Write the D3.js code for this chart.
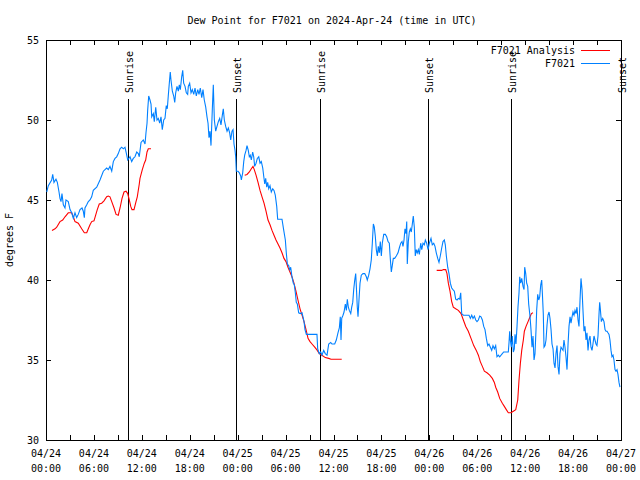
<!DOCTYPE html>
<html><head><meta charset="utf-8">
<script src="https://cdn.jsdelivr.net/npm/d3@7"></script>
<style>
html,body{margin:0;padding:0;background:#fff;}
text{font-family:"DejaVu Sans Mono","Liberation Mono",monospace;font-size:10px;fill:#000;}
</style></head>
<body>
<svg id="chart" width="640" height="480"></svg>
<script>
const titleText = "Dew Point for F7021 on 2024-Apr-24 (time in UTC)";
const yLabel = "degrees F";
const startUTC = Date.UTC(2024, 3, 24, 0, 0);
const spanHours = 72;
const yDomain = [30, 55];
const yTickValues = [30, 35, 40, 45, 50, 55];
const seriesNames = ["F7021 Analysis", "F7021"];
const seriesColors = ["#ff0000", "#0080ff"];
const eventHours = [10.31, 23.83, 34.35, 47.87, 58.27, 72.0];
const eventLabels = ["Sunrise", "Sunset", "Sunrise", "Sunset", "Sunrise", "Sunset"];

// F7021 observations: [hours after 04/24 00:00 UTC, degrees F]
const obsReadings = [
[0.09,45.5],[0.29,45.9],[0.71,46.25],[0.84,46.6],[1.00,46.1],[1.25,46.3],[1.42,46.1],[1.63,45.5],[1.75,45.1],[1.88,44.9],
[2.00,45.4],[2.17,44.7],[2.38,44.5],[2.50,45.0],[2.79,44.9],[3.01,44.4],[3.22,44.2],[3.42,43.85],[3.63,44.2],[3.84,43.9],
[4.04,44.1],[4.26,44.4],[4.51,44.5],[4.67,44.3],[4.80,43.9],[4.88,44.5],[5.10,44.7],[5.30,44.9],[5.51,45.0],[5.72,45.2],
[5.92,45.6],[6.35,45.8],[6.76,46.25],[7.18,46.8],[7.39,46.9],[7.60,47.0],[7.80,46.9],[8.01,47.1],[8.23,46.8],[8.43,47.4],
[8.64,47.6],[8.85,47.7],[9.05,47.9],[9.27,48.2],[9.48,48.3],[9.68,48.2],[9.89,48.3],[10.11,47.8],[10.23,47.5],[10.52,47.7],
[10.73,47.4],[10.93,47.6],[11.14,47.7],[11.36,48.0],[11.56,47.9],[11.68,47.7],[11.90,48.6],[12.18,48.75],[12.40,48.5],[12.52,49.2],
[12.65,49.8],[12.73,50.6],[12.86,51.5],[13.02,51.25],[13.15,51.0],[13.24,50.2],[13.44,50.4],[13.56,49.9],[13.74,50.8],[13.90,50.0],
[14.06,50.1],[14.24,49.8],[14.40,50.2],[14.56,49.4],[14.74,50.0],[14.90,50.1],[15.06,50.9],[15.19,50.7],[15.31,51.5],[15.44,52.3],
[15.56,53.0],[15.65,52.5],[15.82,51.8],[15.99,51.5],[16.12,51.1],[16.24,51.7],[16.40,52.1],[16.57,51.8],[16.69,52.2],[16.82,51.9],
[16.99,52.7],[17.12,53.1],[17.24,52.3],[17.41,52.1],[17.57,51.7],[17.74,51.6],[17.82,52.1],[17.99,52.3],[18.16,51.7],[18.32,51.9],
[18.50,51.6],[18.66,52.0],[18.82,51.5],[19.00,51.9],[19.16,51.6],[19.32,52.0],[19.50,51.4],[19.66,51.9],[19.82,51.25],[20.00,50.8],
[20.16,50.2],[20.29,49.8],[20.41,48.9],[20.54,49.3],[20.66,48.4],[20.82,50.6],[20.95,52.2],[21.08,50.0],[21.25,49.3],[21.41,49.6],
[21.58,49.9],[21.75,50.1],[21.91,49.7],[22.08,50.3],[22.20,50.7],[22.33,50.0],[22.50,49.6],[22.67,49.3],[22.83,49.5],[23.00,49.2],
[23.13,48.75],[23.29,49.3],[23.42,49.4],[23.54,48.5],[23.67,48.1],[23.75,47.7],[23.83,46.8],[24.04,46.8],[24.21,46.7],[24.38,46.5],
[24.46,46.25],[24.63,46.7],[24.76,47.4],[24.88,47.8],[25.05,48.1],[25.17,48.4],[25.33,48.1],[25.46,47.7],[25.58,47.8],[25.71,47.5],
[25.88,48.0],[26.01,47.7],[26.13,47.1],[26.30,47.3],[26.46,47.6],[26.64,47.7],[26.80,47.3],[26.96,47.4],[27.14,47.0],[27.26,46.5],
[27.39,46.0],[27.51,46.35],[27.64,45.8],[27.76,46.1],[27.89,45.7],[28.05,45.9],[28.21,45.5],[28.39,45.7],[28.55,45.6],[28.71,45.3],
[28.89,44.6],[29.01,43.8],[29.55,43.8],[29.77,43.1],[29.97,42.5],[30.09,41.7],[30.22,41.0],[30.39,40.9],[30.52,40.6],[30.64,40.8],
[30.80,40.2],[30.97,39.8],[31.09,39.7],[31.22,39.2],[31.34,38.6],[31.47,38.5],[31.64,37.95],[31.84,37.9],[32.06,37.95],[32.18,37.7],
[32.31,37.4],[32.43,36.9],[32.60,36.6],[33.93,36.6],[34.02,35.7],[34.22,35.4],[34.40,35.5],[34.56,35.3],[34.77,35.6],[34.97,35.4],
[35.19,35.3],[35.40,36.0],[35.65,36.1],[35.81,36.0],[36.15,36.0],[36.35,36.25],[36.56,36.7],[36.73,37.0],[36.85,37.7],[36.94,36.25],
[37.03,37.6],[37.19,37.8],[37.32,38.0],[37.48,38.5],[37.61,38.1],[37.73,38.8],[37.86,38.3],[37.98,38.1],[38.16,37.9],[38.28,38.3],
[38.41,38.6],[38.53,39.4],[38.66,40.0],[38.78,40.4],[38.86,39.6],[38.98,38.3],[39.07,37.7],[39.19,38.75],[39.32,39.8],[39.48,40.3],
[39.69,40.4],[39.91,40.4],[40.11,40.2],[40.23,40.0],[40.41,40.3],[40.57,40.7],[40.73,41.25],[40.86,42.3],[40.99,43.5],[41.11,43.3],
[41.24,42.7],[41.36,41.9],[41.49,41.5],[41.61,42.1],[41.74,41.7],[41.86,42.4],[41.99,41.5],[42.11,42.3],[42.29,42.85],[42.49,42.85],
[42.66,42.7],[42.83,42.4],[42.99,42.3],[43.11,41.35],[43.24,40.5],[43.36,40.9],[43.49,41.35],[43.66,41.35],[43.86,41.5],[44.08,41.7],
[44.24,42.0],[44.42,42.3],[44.58,42.4],[44.70,42.1],[44.83,42.5],[44.95,43.2],[45.08,42.9],[45.17,43.65],[45.24,41.0],[45.37,42.4],
[45.49,43.0],[45.62,43.2],[45.74,43.0],[45.87,43.5],[45.99,44.0],[46.12,43.3],[46.24,41.5],[46.37,41.9],[46.49,41.7],[46.62,41.9],
[46.75,41.6],[46.92,42.3],[47.05,41.9],[47.21,42.3],[47.37,42.2],[47.50,42.5],[47.67,42.3],[47.84,41.9],[48.00,42.3],[48.21,42.6],
[48.37,42.2],[48.55,42.3],[48.71,42.1],[48.87,41.7],[49.05,41.35],[49.21,41.1],[49.37,41.5],[49.55,42.0],[49.71,42.4],[49.88,42.5],
[50.00,42.2],[50.13,41.5],[50.30,40.8],[50.46,40.4],[50.63,39.8],[50.80,39.5],[50.96,39.4],[51.13,39.3],[51.30,38.8],[51.47,38.75],
[51.63,38.85],[51.80,38.8],[51.93,39.2],[52.05,37.9],[52.26,37.8],[52.97,37.8],[53.14,37.6],[53.31,37.8],[53.47,37.6],[53.64,37.75],
[53.81,37.5],[53.97,37.4],[54.14,37.5],[54.31,37.75],[54.47,37.7],[54.64,37.5],[54.81,37.1],[54.97,36.9],[55.14,36.35],[55.31,35.9],
[55.47,36.0],[55.64,35.8],[55.81,35.6],[55.97,35.9],[56.14,35.7],[56.31,35.9],[56.47,35.2],[56.64,35.3],[56.81,35.2],[56.98,35.3],
[57.14,35.4],[57.31,35.5],[57.89,35.5],[57.98,36.1],[58.06,36.8],[58.14,36.25],[58.27,35.8],[58.39,36.5],[58.52,35.5],[58.64,35.7],
[58.73,36.6],[58.85,36.0],[58.98,37.1],[59.10,38.3],[59.23,39.2],[59.32,40.2],[59.44,39.8],[59.57,40.1],[59.73,39.6],[59.86,39.4],
[59.94,40.8],[60.07,40.4],[60.19,39.8],[60.32,39.6],[60.44,38.5],[60.61,37.7],[60.73,36.9],[60.86,35.8],[60.98,36.5],[61.11,35.0],
[61.23,35.4],[61.36,36.9],[61.44,38.1],[61.57,39.1],[61.70,38.75],[61.82,38.95],[61.95,39.7],[62.07,40.0],[62.15,39.2],[62.27,37.9],
[62.36,35.8],[62.49,35.9],[62.61,36.25],[62.74,37.2],[62.86,37.8],[62.99,38.0],[63.11,37.6],[63.24,36.9],[63.36,36.0],[63.49,35.7],
[63.61,34.8],[63.74,34.5],[63.86,35.4],[63.99,35.9],[64.11,34.6],[64.24,34.1],[64.36,35.4],[64.49,35.8],[64.61,35.7],[64.74,35.6],
[64.86,36.25],[64.99,35.8],[65.11,35.2],[65.24,34.4],[65.37,36.0],[65.49,37.1],[65.62,37.7],[65.74,37.3],[65.87,37.7],[65.99,38.0],
[66.12,37.8],[66.24,38.1],[66.37,37.9],[66.49,38.3],[66.62,37.5],[66.74,37.1],[66.87,38.75],[66.99,40.1],[67.12,39.4],[67.24,38.1],
[67.37,36.8],[67.49,37.1],[67.62,36.25],[67.74,36.7],[67.87,35.6],[67.99,36.25],[68.12,36.5],[68.24,35.8],[68.37,35.6],[68.49,36.0],
[68.62,36.5],[68.74,36.25],[68.87,36.0],[68.99,35.9],[69.12,36.5],[69.25,37.9],[69.33,38.6],[69.41,38.2],[69.54,37.4],[69.71,37.6],
[69.87,37.4],[70.00,36.9],[70.12,36.8],[70.25,36.8],[70.37,36.7],[70.50,36.6],[70.62,36.25],[70.75,35.6],[70.87,35.2],[71.00,35.3],
[71.12,35.0],[71.25,34.4],[71.37,34.3],[71.50,34.4],[71.62,34.1],[71.75,33.6],[71.87,33.3]
];

// F7021 Analysis: [hours, degrees F]; null marks a gap
const analysisReadings = [
[0.75,43.1],[1.13,43.2],[1.34,43.3],[1.75,43.65],[2.09,43.75],[2.38,43.95],[2.79,44.2],[3.22,44.2],[3.42,43.95],[3.63,43.65],
[4.04,43.55],[4.47,43.2],[4.80,42.95],[5.10,42.95],[5.30,43.2],[5.51,43.45],[5.72,43.65],[6.01,43.7],[6.22,44.05],[6.42,44.4],
[6.67,44.75],[6.97,44.8],[7.26,44.95],[7.60,45.2],[7.80,45.25],[8.01,45.2],[8.23,44.9],[8.52,44.5],[8.77,44.1],[9.05,44.05],
[9.27,44.5],[9.52,45.1],[9.77,45.5],[10.02,45.55],[10.23,45.4],[10.43,45.0],[10.61,44.6],[10.77,44.4],[11.02,44.4],[11.27,44.9],
[11.43,45.2],[11.68,46.0],[11.77,46.35],[12.06,46.9],[12.31,47.3],[12.48,47.5],[12.65,48.0],[12.81,48.2],[13.15,48.2],
[13.5,null],
[24.88,46.55],[25.17,46.6],[25.46,46.75],[25.71,46.95],[25.92,47.1],[26.08,46.9],[26.30,46.55],[26.55,46.1],[26.80,45.6],[27.05,45.2],
[27.30,44.8],[27.55,44.3],[27.80,43.75],[28.05,43.45],[28.30,43.1],[28.55,42.8],[28.80,42.5],[29.05,42.25],[29.30,42.0],[29.55,41.7],
[29.80,41.35],[30.05,41.15],[30.30,40.8],[30.55,40.5],[30.80,40.2],[31.05,39.8],[31.30,39.3],[31.55,38.75],[31.81,38.2],[32.06,37.8],
[32.31,37.4],[32.56,36.9],[32.81,36.35],[33.06,36.15],[33.31,36.0],[33.65,35.8],[33.97,35.6],[34.22,35.4],[34.56,35.3],[34.97,35.15],
[35.40,35.1],[35.69,35.05],[37.03,35.05],
[37.5,null],
[48.92,40.6],[49.55,40.6],[49.75,40.65],[50.05,40.65],[50.21,40.4],[50.38,39.8],[50.59,39.3],[50.80,38.65],[51.00,38.3],[51.30,38.2],
[51.63,38.1],[51.97,37.9],[52.26,37.5],[52.56,37.1],[52.88,36.8],[53.22,36.35],[53.56,35.9],[53.88,35.6],[54.14,35.3],[54.38,34.9],
[54.64,34.6],[54.89,34.3],[55.22,34.2],[55.56,34.05],[55.89,33.85],[56.14,33.6],[56.31,33.3],[56.56,33.0],[56.81,32.6],[57.14,32.3],
[57.39,32.1],[57.64,31.9],[57.89,31.7],[58.23,31.7],[58.52,31.8],[58.82,31.9],[59.07,32.5],[59.23,33.75],[59.40,34.8],[59.57,35.6],
[59.77,36.25],[59.90,36.8],[60.11,37.1],[60.36,37.4],[60.61,37.7],[60.78,37.9],[60.98,37.95]
];

const toDate = h => new Date(startUTC + h * 3600e3);
const svg = d3.select("#chart");
const L = 46, R = 621, T = 40, B = 440;

const x = d3.scaleUtc().domain([toDate(0), toDate(spanHours)]).range([L, R]);
const y = d3.scaleLinear().domain(yDomain).range([B, T]);

// title
svg.append("text").attr("x", 332).attr("y", 24).attr("text-anchor", "middle").text(titleText);
// y label
svg.append("text").attr("transform", "translate(13,240) rotate(-90)").attr("text-anchor", "middle").text(yLabel);

// axes
const ticks3h = d3.range(0, spanHours + 1, 3).map(toDate);
const ticks6h = d3.range(0, spanHours + 1, 6).map(toDate);
const fmtDate = d3.utcFormat("%m/%d"), fmtTime = d3.utcFormat("%H:%M");

const gB = svg.append("g").attr("transform", `translate(0,${B})`)
  .call(d3.axisBottom(x).tickValues(ticks3h).tickSizeInner(-5).tickSizeOuter(0).tickFormat(""));
const gT = svg.append("g").attr("transform", `translate(0,${T})`)
  .call(d3.axisTop(x).tickValues(ticks3h).tickSizeInner(-5).tickSizeOuter(0).tickFormat(""));
const gL = svg.append("g").attr("transform", `translate(${L},0)`)
  .call(d3.axisLeft(y).tickValues(yTickValues).tickSizeInner(-5).tickSizeOuter(0).tickFormat(""));
const gR = svg.append("g").attr("transform", `translate(${R},0)`)
  .call(d3.axisRight(y).tickValues(yTickValues).tickSizeInner(-5).tickSizeOuter(0).tickFormat(""));
[gB, gT, gL, gR].forEach(g => {
  g.selectAll("path.domain").attr("stroke", "#000").attr("shape-rendering", "crispEdges");
  g.selectAll(".tick line").attr("stroke", "#000").attr("shape-rendering", "crispEdges");
});

// x tick labels (two lines)
const xl = svg.append("g");
ticks6h.forEach(d => {
  const t = xl.append("text").attr("text-anchor", "middle").attr("x", x(d));
  t.append("tspan").attr("x", x(d)).attr("y", 457).text(fmtDate(d));
  t.append("tspan").attr("x", x(d)).attr("y", 472).text(fmtTime(d));
});
// y tick labels
yTickValues.forEach(v => {
  svg.append("text").attr("x", 39).attr("y", y(v) + 4).attr("text-anchor", "end").text(v);
});

// event lines
eventHours.forEach((h, i) => {
  const ex = Math.round(x(toDate(h))) + 0.5;
  svg.append("line").attr("x1", ex).attr("x2", ex).attr("y1", 99).attr("y2", B)
    .attr("stroke", "#000").attr("stroke-width", 1).attr("shape-rendering", "crispEdges");
  svg.append("text").attr("transform", `translate(${ex + 4},93) rotate(-90)`)
    .attr("text-anchor", "start").text(eventLabels[i]);
});

// series
const line = d3.line()
  .defined(d => d[1] !== null)
  .x(d => x(toDate(d[0])))
  .y(d => y(d[1]));

svg.append("path").datum(analysisReadings).attr("d", line)
  .attr("fill", "none").attr("stroke", seriesColors[0]).attr("stroke-width", 1.1);
svg.append("path").datum(obsReadings).attr("d", line)
  .attr("fill", "none").attr("stroke", seriesColors[1]).attr("stroke-width", 1.1);

// legend
seriesNames.forEach((name, i) => {
  const ly = 50 + i * 13;
  svg.append("text").attr("x", 575).attr("y", ly + 4).attr("text-anchor", "end").text(name);
  svg.append("line").attr("x1", 581).attr("x2", 610).attr("y1", ly + 0.5).attr("y2", ly + 0.5)
    .attr("stroke", seriesColors[i]).attr("stroke-width", 1).attr("shape-rendering", "crispEdges");
});
</script>
</body></html>
